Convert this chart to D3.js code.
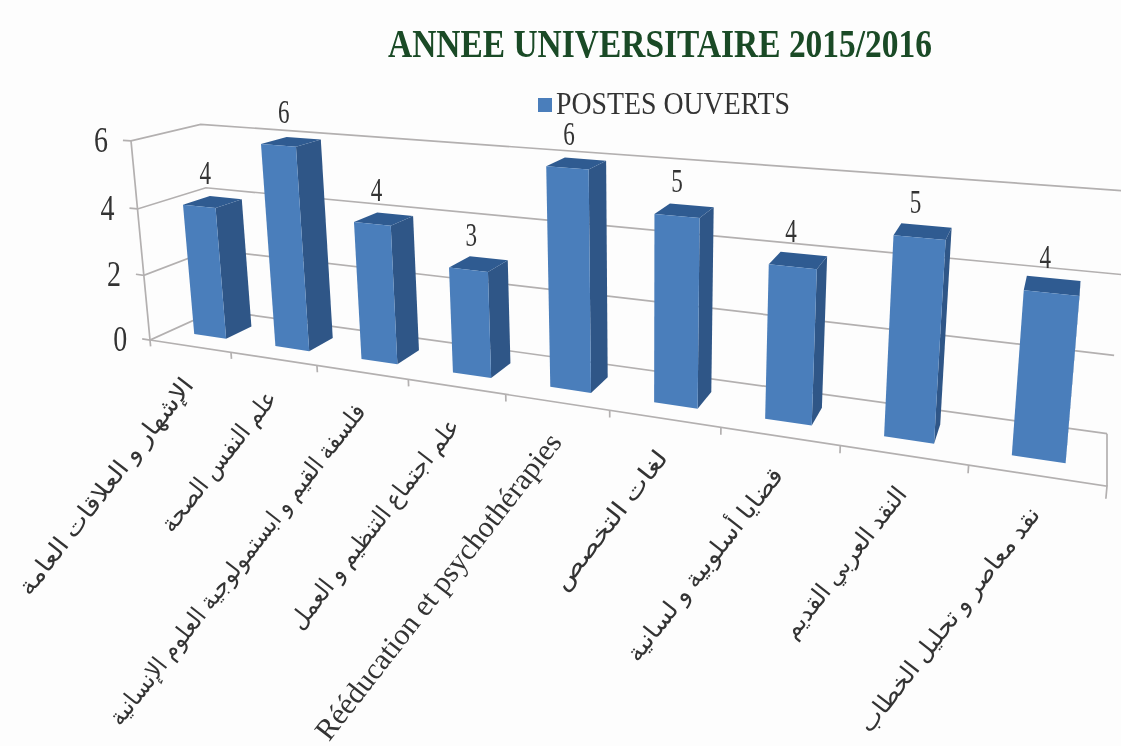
<!DOCTYPE html>
<html><head><meta charset="utf-8">
<script src="https://cdnjs.cloudflare.com/ajax/libs/d3/7.8.5/d3.min.js"></script>
<style>html,body{margin:0;padding:0;background:#fdfdfd;overflow:hidden}svg{display:block;filter:blur(0.7px)}</style>
</head><body><svg id="c" width="1121" height="746"></svg>
<script>
const categories = ["الإشهار و العلاقات العامة","علم النفس الصحة","فلسفة القيم و ابستمولوجية العلوم الإنسانية","علم اجتماع التنظيم و العمل","Rééducation et psychothérapies","لغات التخصص","قضايا أسلوبية و لسانية","النقد العربي القديم","نقد معاصر و تحليل الخطاب"];
const postesOuverts = [4,6,4,3,6,5,4,5,4];
const yTicks = [0,2,4,6];
const titleText = "ANNEE UNIVERSITAIRE 2015/2016";
const seriesName = "POSTES OUVERTS";

// layout (not data)
const labelLengths = [268,172,400,260,380,170,238,185,278];
const O=[150,340], Vu=[-2566,-75], Vv=[645,5527], Vw=[1107,-92];
const a=-0.02895, b=-0.00616*6, c=0.074;
const uScale=d3.scaleBand().domain(categories).range([0,9]).paddingInner(0.6).paddingOuter(0.3);
const vScale=d3.scaleLinear().domain([0,6]).range([0,1]);
const P=(u,val,w)=>{const v=vScale(val),d=1+a*u+b*v+c*w;
  return [(O[0]+a*u*Vu[0]+b*v*Vv[0]+c*w*Vw[0])/d,(O[1]+a*u*Vu[1]+b*v*Vv[1]+c*w*Vw[1])/d];};
const svg=d3.select("#c");
const line=d3.line();
const ink="#333333";
const g=svg.append("g").attr("fill","none").attr("stroke","#b3b0b0").attr("stroke-width",1.7);
yTicks.forEach(t=>{
  g.append("path").attr("d",line([P(-0.1,t,0),P(0,t,0),P(0,t,1),P(9,t,1)]));
});
g.append("path").attr("d",line([P(0,6,0),P(0,-0.2,0)]));
g.append("path").attr("d",line([P(0,0,0),P(9,0,0),P(9,-0.3,0)]));
g.append("path").attr("d",line([P(9,0,1),P(9,0,0)]));
d3.range(1,9).forEach(i=>g.append("path").attr("d",line([P(i,0,0),P(i,-0.2,0)])));
const w0=0.3,w1=0.7;
const poly=(pts,fill)=>svg.append("polygon").attr("points",pts.map(p=>p.join(",")).join(" ")).attr("fill",fill);
categories.forEach((cat,i)=>{
  const val=postesOuverts[i],u0=uScale(cat),u1=u0+uScale.bandwidth(),uc=(u0+u1)/2;
  poly([P(u1,0,w0),P(u1,0,w1),P(u1,val,w1),P(u1,val,w0)],"#2f5687");
  poly([P(u0,val,w0),P(u1,val,w0),P(u1,val,w1),P(u0,val,w1)],"#2f5b91");
  poly([P(u0,0,w0),P(u1,0,w0),P(u1,val,w0),P(u0,val,w0)],"#4a7ebb");
  const top=P(uc-0.05,val,0.45);
  svg.append("text").attr("text-anchor","middle")
    .attr("font-family","Liberation Serif").attr("font-size",34).attr("fill",ink)
    .attr("transform",`translate(${top[0]},${top[1]-19}) scale(0.68,1)`).text(val);
  const e=P(uc,0,0), ax=e[0]-1, ay=e[1]+35, latin=/^[A-Za-zé]/.test(cat);
  svg.append("text").attr("transform",`translate(${ax},${ay}) rotate(-52)`).attr("text-anchor","end")
    .attr("dy","0.3em")
    .attr("font-family","Liberation Serif, DejaVu Sans").attr("font-size",latin?30:24).attr("fill",ink)
    .attr("textLength",labelLengths[i]).attr("lengthAdjust","spacingAndGlyphs").text(cat);
});
yTicks.forEach(t=>{
  const p=P(-0.1,t,0);
  svg.append("text").attr("x",p[0]-29).attr("y",p[1]+12).attr("font-family","Liberation Serif")
    .attr("font-size",36).attr("fill",ink).attr("textLength",14).attr("lengthAdjust","spacingAndGlyphs").text(t);
});
svg.append("text").attr("x",388).attr("y",57).attr("font-family","Liberation Serif").attr("font-weight","bold")
  .attr("font-size",40).attr("fill","#1a4a26").attr("textLength",544).attr("lengthAdjust","spacingAndGlyphs").text(titleText);
svg.append("rect").attr("x",538).attr("y",98).attr("width",14).attr("height",14).attr("fill","#4a7ebb");
svg.append("text").attr("x",556).attr("y",114).attr("font-family","Liberation Serif").attr("font-size",31)
  .attr("fill",ink).attr("textLength",234).attr("lengthAdjust","spacingAndGlyphs").text(seriesName);
</script></body></html>
